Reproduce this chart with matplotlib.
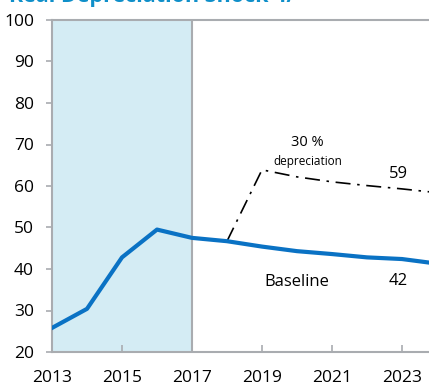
import matplotlib.pyplot as plt

plt.rcParams['font.family'] = ['Open Sans', 'DejaVu Sans']

years = [2013, 2014, 2015, 2016, 2017, 2018, 2019, 2020, 2021, 2022, 2023, 2024]
baseline = [25.8, 30.4, 42.8, 49.5, 47.5, 46.7, 45.4, 44.3, 43.6, 42.8, 42.4, 41.3]

shock_years = [2018, 2019, 2020, 2021, 2022, 2023, 2024]
shock = [46.7, 63.9, 62.2, 61.0, 60.1, 59.3, 58.4]

hist_start, hist_end = 2013, 2017
xticks = [2013, 2015, 2017, 2019, 2021, 2023]
yticks = [20, 30, 40, 50, 60, 70, 80, 90, 100]

W, H = 429, 388
fig = plt.figure(figsize=(W / 100, H / 100), dpi=100)
# plot area runs past the right edge of the figure
ax = fig.add_axes([52 / W, (H - 352) / H, (437 - 52) / W, (352 - 20) / H])

ax.axvspan(hist_start, hist_end, color='#d4ecf4', lw=0, zorder=0)
ax.axvline(hist_end, color='#a9acb0', lw=1.5, zorder=1)

ax.plot(years, baseline, color='#0a72c4', lw=3, zorder=3)
ax.plot(shock_years, shock, color='black', lw=1.2, linestyle=(0, (9, 4, 1.5, 4)), zorder=2)

ax.set_xlim(2013, 2024)
ax.set_ylim(20, 100)
ax.set_xticks(xticks)
ax.set_yticks(yticks)
ax.tick_params(axis='x', direction='in', length=5, color='#a9acb0', width=1.2,
               labelsize=12.5, pad=13)
ax.tick_params(axis='y', direction='out', length=4, color='#a9acb0', width=1.2,
               labelsize=12.5, pad=9)
for side in ['left', 'bottom', 'top']:
    ax.spines[side].set_color('#a9acb0')
    ax.spines[side].set_linewidth(1.5)
ax.spines['right'].set_visible(False)

ax.text(2020.3, 70.6, '30 %', fontsize=10.5, ha='center', va='center')
ax.text(2020.3, 66.0, 'depreciation', fontsize=8.5, ha='center', va='center')
ax.text(2022.9, 63.0, '59', fontsize=12, ha='center', va='center')
ax.text(2020.0, 36.9, 'Baseline', fontsize=12, ha='center', va='center')
ax.text(2022.9, 37.2, '42', fontsize=12, ha='center', va='center')

fig.text(9 / W, 1 - 2 / H, 'Real Depreciation Shock 4/', fontsize=15.5, fontweight='bold',
         color='#0f8fc9', ha='left', va='baseline')

fig.savefig('out.png', dpi=100)
